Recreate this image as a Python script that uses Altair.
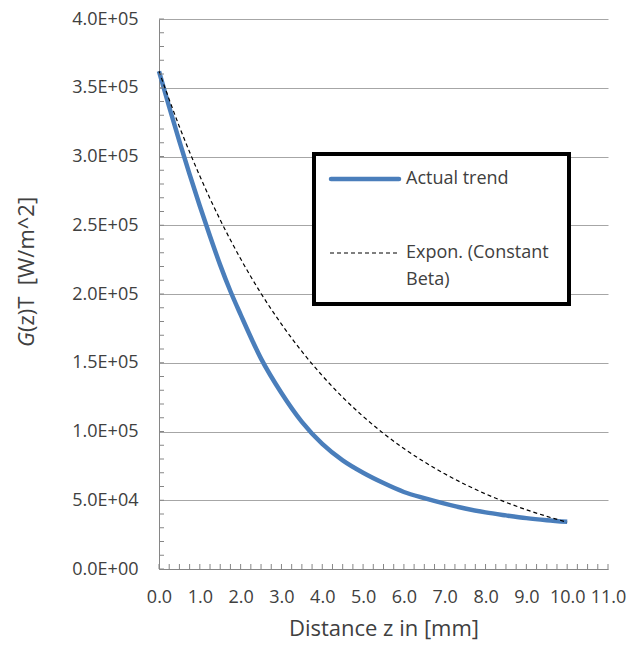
import altair as alt
import pandas as pd

# Actual trend
z_actual = [0, 0.25, 0.5, 0.75, 1.0, 1.25, 1.5, 1.75, 2.0, 2.5, 3.0, 3.5, 4.0, 4.5,
            5.0, 5.5, 6.0, 6.5, 7.0, 7.5, 8.0, 8.5, 9.0, 9.5, 10.0]
g_actual = [362000, 336000, 311000, 287000, 264000, 242000, 221000, 202000, 185000,
            153000, 128000, 107000, 91000, 79000, 70000, 62500, 56000, 51500, 47500,
            44000, 41200, 39000, 37000, 35500, 34300]

# Exponential trendline (Constant Beta)
z_expon = [0, 0.5, 1.0, 1.5, 2.0, 2.5, 3.0, 3.5, 4.0, 4.5, 5.0, 5.5, 6.0, 6.5, 7.0,
           7.5, 8.0, 8.5, 9.0, 9.5, 10.0]
g_expon = [362000, 321700, 285800, 253900, 225600, 200400, 178100, 158200, 140600,
           124900, 111000, 98600, 87600, 77900, 69200, 61500, 54600, 48500, 43100,
           38300, 34000]

y_ticks = [0, 50000, 100000, 150000, 200000, 250000, 300000, 350000, 400000]
x_ticks = [0, 1, 2, 3, 4, 5, 6, 7, 8, 9, 10, 11]
y_minor = [i * 10000 for i in range(41)]
x_minor = [i * 0.25 for i in range(45)]

FONT = "Open Sans"
TXT = "#404040"

df_a = pd.DataFrame({"z": z_actual, "g": g_actual})
df_e = pd.DataFrame({"z": z_expon, "g": g_expon})
df_ym = pd.DataFrame({"g": y_minor})
df_xm = pd.DataFrame({"z": x_minor})
one = pd.DataFrame({"a": [0]})

xs = alt.Scale(domain=[0, 11], nice=False)
ys = alt.Scale(domain=[0, 400000], nice=False)

label_expr = ("datum.value >= 100000 ? format(datum.value/100000, '.1f') + 'E+05' : "
              "(datum.value > 0 ? format(datum.value/10000, '.1f') + 'E+04' : '0.0E+00')")

actual = alt.Chart(df_a).mark_line(color="#4a7ebb", strokeWidth=4.5, interpolate="monotone").encode(
    x=alt.X("z:Q", scale=xs, axis=alt.Axis(values=x_ticks, format=".1f", title="Distance z in [mm]",
                                            grid=False, tickSize=0, labelPadding=19, titlePadding=12,
                                            labelOverlap=False, labelFlush=False,
                                            domainColor="#868686", labelFontSize=18, titleFontSize=22,
                                            labelFont=FONT, titleFont=FONT, labelColor=TXT,
                                            titleColor=TXT, titleFontWeight="normal")),
    y=alt.Y("g:Q", scale=ys, axis=alt.Axis(values=y_ticks, labelExpr=label_expr, title=None,
                                            grid=True, gridColor="#a6a6a6", tickSize=0,
                                            labelOverlap=False, labelFlush=False,
                                            labelPadding=21, domainColor="#868686", labelFontSize=18,
                                            labelFont=FONT, labelColor=TXT)),
)

expon = alt.Chart(df_e).mark_line(color="black", strokeWidth=1.2, strokeDash=[4, 3],
                                  interpolate="monotone").encode(
    x=alt.X("z:Q", scale=xs), y=alt.Y("g:Q", scale=ys))

ytick = alt.Chart(df_ym).mark_rule(color="#868686", strokeWidth=1).encode(
    y=alt.Y("g:Q", scale=ys), x=alt.value(0), x2=alt.value(5))
xtick = alt.Chart(df_xm).mark_rule(color="#868686", strokeWidth=1).encode(
    x=alt.X("z:Q", scale=xs), y=alt.value(550), y2=alt.value(545))

box = alt.Chart(one).mark_rect(fill="white", stroke="black", strokeWidth=4).encode(
    x=alt.value(155), x2=alt.value(410), y=alt.value(135), y2=alt.value(285))
leg1 = alt.Chart(one).mark_rule(color="#4a7ebb", strokeWidth=4.5, strokeCap="round").encode(
    x=alt.value(172), x2=alt.value(240), y=alt.value(160))
leg2 = alt.Chart(one).mark_rule(color="black", strokeWidth=1.2, strokeDash=[4, 3]).encode(
    x=alt.value(171), x2=alt.value(238), y=alt.value(234))
t1 = alt.Chart(one).mark_text(text="Actual trend", align="left", baseline="middle", fontSize=18,
                              font=FONT, color=TXT).encode(x=alt.value(247), y=alt.value(160))
t2 = alt.Chart(one).mark_text(text="Expon. (Constant", align="left", baseline="middle", fontSize=18,
                              font=FONT, color=TXT).encode(x=alt.value(247), y=alt.value(234))
t3 = alt.Chart(one).mark_text(text="Beta)", align="left", baseline="middle", fontSize=18,
                              font=FONT, color=TXT).encode(x=alt.value(247), y=alt.value(261))

ytitle_g = alt.Chart(one).mark_text(text="G", align="left", baseline="middle", angle=270, fontSize=22,
                                    font=FONT, fontStyle="italic", color=TXT).encode(
    x=alt.value(-132), y=alt.value(328))
ytitle_r = alt.Chart(one).mark_text(text="(z)T\u00a0\u00a0[W/m^2]", align="left", baseline="middle",
                                    angle=270, fontSize=22, font=FONT, color=TXT).encode(
    x=alt.value(-132), y=alt.value(313))

chart = alt.layer(actual, expon, ytick, xtick, box, leg1, leg2, t1, t2, t3, ytitle_g, ytitle_r).properties(
    width=449, height=550,
    autosize=alt.AutoSizeParams(type="none"),
    padding={"left": 151, "top": 11, "right": 25, "bottom": 74},
).configure_view(stroke=None)

chart.save("out.html", embed_options={"renderer": "svg", "actions": False})
